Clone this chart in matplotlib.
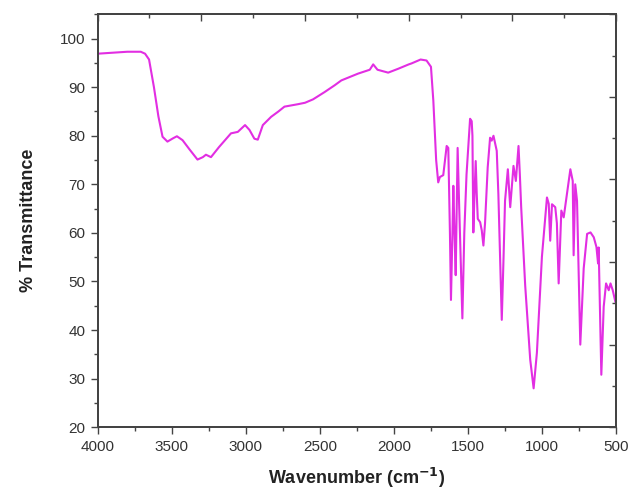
import matplotlib
matplotlib.use("Agg")
import matplotlib.pyplot as plt
from matplotlib.ticker import MultipleLocator

plt.rcParams['font.family'] = ['Liberation Sans', 'DejaVu Sans']

# FTIR spectrum (wavenumber in cm-1, % transmittance)
wavenumber = [4000, 3900, 3800, 3709, 3680, 3653, 3620, 3590, 3562, 3529,
              3490, 3465, 3427, 3380, 3326, 3290, 3269, 3235, 3180, 3100,
              3054, 3005, 2975, 2942, 2919, 2885, 2829, 2780, 2739, 2648,
              2600, 2546, 2468, 2400, 2355, 2242, 2163, 2140, 2111, 2039,
              1971, 1900, 1881, 1820, 1780, 1750, 1734, 1715, 1701, 1690,
              1678, 1667, 1644, 1633, 1622, 1615, 1605, 1599, 1591, 1583,
              1576, 1570, 1560, 1538, 1525, 1510, 1486, 1475, 1470, 1464,
              1456, 1448, 1441, 1434, 1418, 1407, 1396, 1385, 1367, 1351,
              1340, 1328, 1306, 1295, 1272, 1260, 1250, 1231, 1215, 1203,
              1193, 1177, 1159, 1150, 1141, 1114, 1080, 1057, 1035, 1001,
              967, 955, 945, 933, 911, 900, 888, 870, 854, 832,
              809, 793, 787, 776, 764, 742, 730, 719, 696, 673,
              651, 633, 622, 618, 600, 584, 568, 550, 538, 523,
              505, 500]
transmittance = [96.9, 97.1, 97.3, 97.3, 96.9, 95.7, 90.0, 84.0, 79.8, 78.8,
                 79.5, 79.9, 79.1, 77.2, 75.1, 75.6, 76.1, 75.6, 77.7, 80.5,
                 80.8, 82.2, 81.2, 79.4, 79.2, 82.2, 83.9, 85.0, 86.0, 86.5,
                 86.8, 87.5, 89.0, 90.4, 91.4, 92.8, 93.6, 94.7, 93.6, 93.0,
                 93.8, 94.7, 94.9, 95.7, 95.5, 94.2, 87.2, 75.0, 70.4, 71.5,
                 71.7, 71.9, 77.9, 77.5, 60.0, 46.2, 60.0, 69.7, 60.0, 51.3,
                 65.0, 77.5, 66.0, 42.4, 60.0, 72.0, 83.5, 83.0, 80.0, 60.1,
                 68.0, 74.8, 68.0, 62.9, 62.2, 60.5, 57.4, 62.0, 73.5, 79.6,
                 79.0, 80.0, 76.9, 68.0, 42.1, 55.0, 66.6, 73.1, 65.3, 70.0,
                 73.8, 70.7, 77.9, 72.0, 65.3, 49.2, 33.9, 28.0, 35.3, 55.1,
                 67.3, 66.0, 58.4, 65.9, 65.3, 62.0, 49.6, 64.6, 63.2, 68.0,
                 73.1, 70.7, 55.4, 70.0, 66.6, 37.0, 45.0, 52.7, 59.8, 60.1,
                 59.1, 57.1, 53.7, 57.0, 30.8, 44.8, 49.6, 48.2, 49.6, 48.2,
                 45.8, 45.5]

fig = plt.figure(figsize=(6.3, 4.95), dpi=100)
ax = fig.add_axes([0.155, 0.137, 0.823, 0.834])
ax.plot(wavenumber, transmittance, color='#e22ee2', lw=1.5)

ax.set_xlim(4000, 500)
ax.set_ylim(20, 105)
ax.xaxis.set_major_locator(MultipleLocator(500))
ax.xaxis.set_minor_locator(MultipleLocator(250))
ax.yaxis.set_minor_locator(MultipleLocator(5))
ax.set_yticks([20, 30, 40, 50, 60, 70, 80, 90, 100])

ax.tick_params(which='major', direction='out', length=5, width=1, color='#444444',
               labelsize=11, labelcolor='#333333', top=False, right=False, pad=4)
ax.tick_params(which='minor', direction='out', length=3, width=1, color='#444444',
               top=False, right=False)

# mirrored top/right axes with their own plain tick divisions
axt = ax.twiny()
axt.set_xlim(0, 10)
axt.xaxis.set_major_locator(MultipleLocator(2))
axt.xaxis.set_minor_locator(MultipleLocator(1))
axt.tick_params(which='major', direction='in', length=5, width=1, color='#444444',
                labeltop=False)
axt.tick_params(which='minor', direction='in', length=3, width=1, color='#444444')
axr = ax.twinx()
axr.set_ylim(0, 10)
axr.yaxis.set_major_locator(MultipleLocator(2))
axr.yaxis.set_minor_locator(MultipleLocator(1))
axr.tick_params(which='major', direction='in', length=5, width=1, color='#444444',
                labelright=False)
axr.tick_params(which='minor', direction='in', length=3, width=1, color='#444444')

for a in (ax, axt, axr):
    for s in a.spines.values():
        s.set_color('#444444')
        s.set_linewidth(1.2)

ax.set_xlabel('Wavenumber (cm$^{\\mathbf{-1}}$)', fontsize=13, fontweight='bold',
              color='#222222', labelpad=9)
ax.set_ylabel('% Transmittance', fontsize=13, fontweight='bold',
              color='#222222', labelpad=16)

fig.savefig('out.png', dpi=100)
